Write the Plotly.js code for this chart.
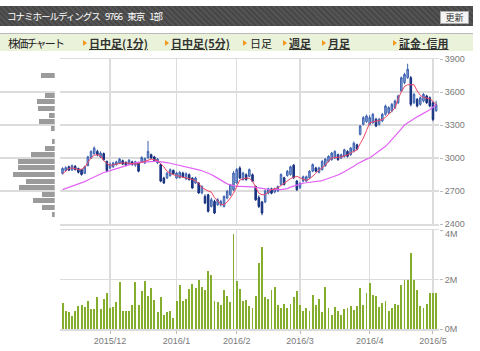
<!DOCTYPE html>
<html><head><meta charset="utf-8">
<script src="https://cdn.plot.ly/plotly-3.0.1.min.js"></script>
<style>
body{margin:0;padding:0;width:480px;height:351px;overflow:hidden;background:#fff;font-family:"Noto Sans CJK JP",sans-serif;}
#chart{position:absolute;left:0;top:0;width:480px;height:351px;}
#hdr{position:absolute;left:0;top:6px;width:473px;height:20px;background:repeating-linear-gradient(45deg,#474747 0px,#474747 2px,#545454 2px,#545454 4px);}
#hdr .t{position:absolute;left:7px;top:3px;color:#fff;font-size:9.5px;letter-spacing:-1px;word-spacing:4px;white-space:nowrap;}
#hdr .b{position:absolute;left:440px;top:5px;width:27px;height:11px;background:#f4f4f4;border:1px solid #aaa;font-size:9px;line-height:11px;text-align:center;color:#333;}
#tabs{position:absolute;left:0;top:33px;width:473px;height:17px;background:#eaf3d9;border-top:1px solid #bbb;}
#tabs span{position:absolute;top:1px;font-size:11px;color:#222;white-space:nowrap;}
#tabs span.u{text-decoration:underline;font-weight:bold;color:#333;}
#tabs i{position:absolute;top:6px;width:0;height:0;border-top:3px solid transparent;border-bottom:3px solid transparent;border-left:4px solid #f39a1e;}
</style></head>
<body>
<div id="chart"></div>
<div id="hdr"><span class="t">コナミホールディングス 9766 東京 1部</span><span class="b">更新</span></div>
<div id="tabs">
<span style="left:8px;letter-spacing:-1.8px;">株価チャート</span>
<i style="left:83px"></i><span class="u" style="left:89px;">日中足(1分)</span>
<i style="left:165px"></i><span class="u" style="left:171px;">日中足(5分)</span>
<i style="left:243px"></i><span style="left:250px;">日足</span>
<i style="left:283px"></i><span class="u" style="left:289px;">週足</span>
<i style="left:322px"></i><span class="u" style="left:328px;">月足</span>
<i style="left:393px"></i><span class="u" style="left:399px;">証金･信用</span>
</div>
<script>
var dates = [
"2015/11/09","2015/11/10","2015/11/11","2015/11/12","2015/11/13","2015/11/16","2015/11/17","2015/11/18","2015/11/19","2015/11/20",
"2015/11/24","2015/11/25","2015/11/26","2015/11/27","2015/11/30","2015/12/01","2015/12/02","2015/12/03","2015/12/04","2015/12/07",
"2015/12/08","2015/12/09","2015/12/10","2015/12/11","2015/12/14","2015/12/15","2015/12/16","2015/12/17","2015/12/18","2015/12/21",
"2015/12/22","2015/12/24","2015/12/25","2015/12/28","2015/12/29","2015/12/30","2016/01/04","2016/01/05","2016/01/06","2016/01/07",
"2016/01/08","2016/01/12","2016/01/13","2016/01/14","2016/01/15","2016/01/18","2016/01/19","2016/01/20","2016/01/21","2016/01/22",
"2016/01/25","2016/01/26","2016/01/27","2016/01/28","2016/01/29","2016/02/01","2016/02/02","2016/02/03","2016/02/04","2016/02/05",
"2016/02/08","2016/02/09","2016/02/10","2016/02/12","2016/02/15","2016/02/16","2016/02/17","2016/02/18","2016/02/19","2016/02/22",
"2016/02/23","2016/02/24","2016/02/25","2016/02/26","2016/02/29","2016/03/01","2016/03/02","2016/03/03","2016/03/04","2016/03/07",
"2016/03/08","2016/03/09","2016/03/10","2016/03/11","2016/03/14","2016/03/15","2016/03/16","2016/03/17","2016/03/18","2016/03/22",
"2016/03/23","2016/03/24","2016/03/25","2016/03/28","2016/03/29","2016/03/30","2016/03/31","2016/04/01","2016/04/04","2016/04/05",
"2016/04/06","2016/04/07","2016/04/08","2016/04/11","2016/04/12","2016/04/13","2016/04/14","2016/04/15","2016/04/18","2016/04/19",
"2016/04/20","2016/04/21","2016/04/22","2016/04/25","2016/04/26","2016/04/27","2016/04/28","2016/05/02","2016/05/06"];

var openP = [
2860,2885,2920,2890,2925,2905,2895,2860,2930,3000,
3040,3060,3010,3040,2970,2910,2920,2940,2955,2975,
2960,2945,2965,2935,2960,2965,2955,3000,3030,3010,
2955,2940,2818,2818,2840,2888,2818,2820,2863,2810,
2848,2818,2772,2773,2682,2651,2666,2560,2606,2575,
2575,2560,2636,2666,2712,2773,2909,2803,2848,2833,
2848,2742,2640,2600,2600,2680,2720,2690,2700,2760,
2820,2840,2850,2935,2790,2730,2790,2790,2820,2880,
2910,2870,2895,2930,2970,2985,3000,3030,3000,3015,
3060,3030,3060,3120,3215,3306,3330,3306,3321,3352,
3306,3337,3397,3412,3427,3458,3503,3609,3685,3730,
3730,3503,3533,3488,3518,3564,3548,3503,3430];
var highP = [
2915,2925,2930,2940,2935,2912,2900,2930,3020,3070,
3105,3075,3060,3050,2975,2960,2965,2975,3000,2985,
2970,2990,2975,2975,2965,3015,3005,3155,3040,3020,
3000,2950,2830,2870,2905,2895,2875,2880,2875,2870,
2860,2825,2830,2780,2750,2670,2675,2640,2620,2635,
2620,2660,2710,2765,2880,2910,2925,2875,2860,2905,
2860,2750,2660,2610,2715,2730,2730,2730,2750,2860,
2830,2890,2930,2945,2800,2780,2840,2840,2890,2950,
2920,2920,2980,3000,3025,3055,3070,3040,3040,3085,
3070,3100,3150,3130,3300,3380,3395,3390,3410,3365,
3365,3410,3485,3470,3500,3530,3575,3740,3775,3857,
3745,3590,3545,3560,3590,3575,3560,3515,3520];
var lowP = [
2850,2875,2880,2885,2885,2860,2840,2855,2925,2995,
3030,3015,3000,2975,2870,2900,2910,2930,2945,2935,
2925,2935,2930,2920,2870,2955,2945,2995,2990,2965,
2945,2780,2765,2810,2830,2850,2810,2815,2820,2800,
2795,2720,2765,2675,2670,2580,2505,2550,2490,2565,
2560,2550,2625,2655,2700,2765,2810,2795,2795,2825,
2780,2610,2545,2480,2590,2670,2670,2680,2690,2750,
2750,2830,2840,2810,2700,2720,2780,2780,2810,2870,
2870,2860,2885,2920,2960,2975,2990,2975,2990,3005,
3005,3020,3050,3070,3205,3295,3320,3295,3310,3280,
3295,3325,3385,3400,3415,3445,3490,3600,3670,3720,
3470,3490,3460,3475,3505,3490,3460,3335,3420];
var closeP = [
2905,2912,2890,2930,2895,2870,2850,2920,3010,3060,
3090,3030,3045,2985,2885,2940,2955,2965,2990,2945,
2935,2980,2940,2965,2880,3005,2995,3060,3000,2975,
2990,2790,2772,2863,2894,2857,2863,2870,2828,2857,
2803,2727,2818,2682,2742,2591,2515,2621,2500,2621,
2606,2651,2697,2757,2863,2894,2818,2863,2803,2894,
2788,2621,2560,2500,2700,2720,2680,2720,2740,2850,
2760,2880,2920,2820,2712,2770,2830,2830,2880,2940,
2880,2910,2970,2990,3015,3045,3060,2985,3030,3075,
3015,3090,3135,3080,3291,3367,3382,3367,3397,3291,
3352,3397,3473,3458,3488,3518,3564,3730,3760,3806,
3488,3579,3473,3548,3579,3503,3473,3351,3485];

// volume in millions of shares
var volumeM = [
1.07,0.74,0.67,0.52,0.74,0.91,0.97,0.90,1.13,0.82,
0.82,1.29,0.82,1.21,1.44,0.83,0.87,1.10,1.88,0.74,
0.71,0.74,0.97,1.89,0.99,1.52,1.93,1.34,1.65,1.18,
0.68,1.29,0.58,0.67,0.72,0.44,1.13,1.79,1.13,1.21,
1.60,1.81,1.65,1.97,1.70,1.57,2.34,2.20,1.15,1.09,
0.97,1.57,1.34,1.10,3.85,1.95,1.62,1.13,1.17,0.91,
0.85,1.33,2.67,3.32,1.29,1.23,1.57,1.70,0.97,0.86,
1.01,0.83,1.01,1.29,1.53,0.99,0.72,0.86,0.72,1.37,
0.97,1.23,0.67,1.70,0.86,0.55,0.90,0.72,0.56,0.79,
0.85,0.91,0.77,0.91,1.65,0.99,1.45,1.84,1.37,1.32,
0.89,1.07,1.15,0.74,0.86,1.02,0.99,1.79,2.00,2.00,
3.07,1.99,1.56,0.94,0.86,1.02,1.44,1.46,1.46];

var ma5 = [
2855,2880,2905,2910,2905,2895,2898,2915,2960,3000,
3025,3030,3020,2975,2950,2933,2938,2945,2950,2955,
2955,2950,2948,2945,2950,2960,2970,2985,2990,2985,
2975,2950,2920,2878,2860,2848,2840,2833,2830,2824,
2815,2805,2790,2772,2730,2712,2700,2690,2640,2610,
2578,2575,2600,2636,2680,2740,2800,2810,2818,2815,
2790,2735,2680,2666,2666,2690,2712,2720,2727,2750,
2772,2790,2812,2825,2833,2820,2810,2797,2810,2833,
2860,2890,2910,2935,2970,3000,3003,3006,3010,3020,
3028,3045,3060,3075,3130,3181,3250,3318,3328,3335,
3340,3350,3370,3395,3425,3454,3540,3600,3650,3666,
3666,3666,3610,3570,3550,3542,3539,3515,3484];

var ma25 = [
2712,2722,2732,2742,2752,2765,2775,2785,2800,2815,
2830,2845,2858,2868,2876,2885,2895,2905,2915,2925,
2935,2943,2950,2955,2960,2963,2965,2967,2968,2969,
2970,2968,2963,2958,2952,2946,2940,2933,2926,2920,
2914,2908,2900,2892,2884,2875,2863,2850,2833,2815,
2795,2778,2765,2755,2748,2742,2742,2742,2742,2741,
2738,2733,2727,2724,2720,2716,2713,2712,2712,2712,
2715,2722,2735,2745,2755,2765,2772,2775,2778,2782,
2785,2788,2795,2805,2815,2825,2832,2845,2860,2875,
2890,2905,2925,2945,2962,2980,2990,3000,3020,3045,
3065,3085,3106,3135,3165,3197,3230,3265,3300,3320,
3340,3358,3375,3390,3405,3420,3439,3462,3484];

// volume-by-price profile (left side)
var profilePrice = [3750,3570,3510,3450,3390,3330,3270,3150,3090,3030,2970,2910,2850,2790,2730,2670,2610,2550,2490];
var profileVol = [13.4,9.4,17.7,17,6,15.7,4,2.7,9.4,23.7,37,37,41.7,28.7,35.4,12.7,21.7,12.7,2.7];

var tickDates = ["2015/12/01","2016/01/04","2016/02/01","2016/03/01","2016/04/01","2016/05/02"];
var tickLabels = ["2015/12","2016/1","2016/2","2016/3","2016/4","2016/5"];
var priceTicks = [2400,2700,3000,3300,3600,3900];
var volTicks = [0,2,4];
var volLabels = ["0M","2M",""];
var volTopLabel = "4M";

var W = 480, H = 351;
var xDom = [60/W, 439/W];
var gridC = "#dcdcdc", tickFont = {family:"Liberation Sans, Arial, sans-serif", size:9, color:"#7a7a7a"};

var traces = [
  {type:"candlestick", x:dates, open:openP, high:highP, low:lowP, close:closeP, xaxis:"x", yaxis:"y",
   increasing:{line:{color:"#3d62b0", width:1}, fillcolor:"#8aa4d6"},
   decreasing:{line:{color:"#152f7c", width:1}, fillcolor:"#1d3a8e"},
   whiskerwidth:0, hoverinfo:"skip", showlegend:false},
  {type:"scatter", mode:"lines", x:dates, y:ma25, xaxis:"x", yaxis:"y",
   line:{color:"#e264f4", width:1.2}, hoverinfo:"skip", showlegend:false},
  {type:"scatter", mode:"lines", x:dates, y:ma5, xaxis:"x", yaxis:"y",
   line:{color:"#ee4466", width:1}, hoverinfo:"skip", showlegend:false},
  {type:"bar", x:dates, y:volumeM, xaxis:"x2", yaxis:"y2", width:0.62,
   marker:{color:"#86ae2e", line:{width:0}}, hoverinfo:"skip", showlegend:false},
  {type:"bar", orientation:"h", y:profilePrice, x:profileVol, xaxis:"x3", yaxis:"y", width:44,
   marker:{color:"#9b9b9b", line:{width:0}}, hoverinfo:"skip", showlegend:false}
];

var layout = {
  width:W, height:H, margin:{l:0,r:0,t:0,b:0},
  paper_bgcolor:"rgba(0,0,0,0)", plot_bgcolor:"#fff",
  showlegend:false, hovermode:false, bargap:0,
  xaxis:{domain:xDom, anchor:"y", type:"category", range:[-0.8,118.9],
    tickvals:tickDates, ticktext:tickLabels, showticklabels:false, ticks:"",
    showgrid:true, gridcolor:gridC, gridwidth:1.5, showline:true, mirror:true, linecolor:gridC, linewidth:1.5,
    rangeslider:{visible:false}, fixedrange:true},
  yaxis:{domain:[127/H, 292/H], anchor:"x", range:[2400,3900], side:"right",
    tickvals:priceTicks, tickfont:tickFont, ticks:"outside", ticklen:3, tickcolor:"#bbb",
    showgrid:true, gridcolor:gridC, gridwidth:1.5, zeroline:false, fixedrange:true},
  xaxis2:{domain:xDom, anchor:"y2", type:"category", range:[-0.8,118.9],
    tickvals:tickDates, ticktext:tickLabels, tickfont:tickFont, ticks:"outside", ticklen:3, tickcolor:"#bbb",
    showgrid:true, gridcolor:gridC, gridwidth:1.5, showline:true, mirror:true, linecolor:gridC, linewidth:1.5, fixedrange:true},
  yaxis2:{domain:[22/H, 121/H], anchor:"x2", range:[0,4], side:"right",
    tickvals:volTicks, ticktext:volLabels, tickfont:tickFont, ticks:"outside", ticklen:3, tickcolor:"#bbb",
    showgrid:true, gridcolor:gridC, gridwidth:1.5, zeroline:false, fixedrange:true},
  xaxis3:{domain:[0, 54.7/W], anchor:"y", range:[54.7,0], visible:false, fixedrange:true},
  annotations:[{xref:"paper", yref:"paper", x:444/W, y:(H-234)/H, xanchor:"left", yanchor:"middle",
    text:volTopLabel, showarrow:false, font:tickFont, borderpad:0}]
};

Plotly.newPlot("chart", traces, layout, {staticPlot:true, displayModeBar:false});
</script>
</body></html>
